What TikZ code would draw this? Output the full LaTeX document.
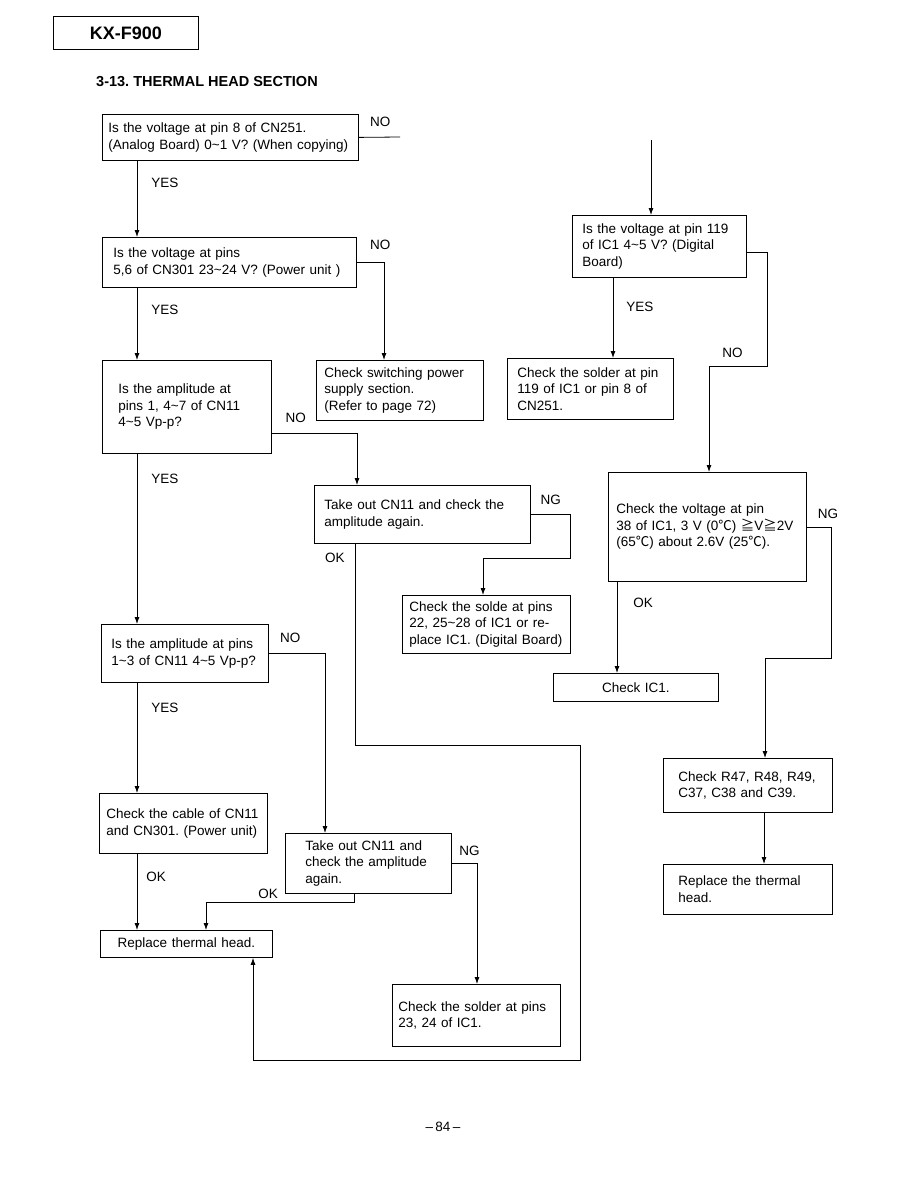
\documentclass[tikz,border=0pt]{standalone}
\usepackage{fontspec}
\setmainfont{Liberation Sans}
\newfontfamily\cjkjp{Noto Sans CJK JP}
\usetikzlibrary{arrows.meta, positioning}
\frenchspacing
\newcommand{\bodyfont}{\fontsize{13.5}{16.5}\selectfont}
\newcommand{\tld}{\textasciitilde}
\newcommand{\degc}{{\cjkjp ℃}}
\newcommand{\geqv}{{\cjkjp ≧}}
\tikzset{
  box/.style={draw, rectangle, anchor=north west, align=left,
              inner ysep=0pt, font=\bodyfont, line width=0.8pt},
  cbox/.style={box, align=center, inner xsep=0pt},
  arr/.style={-{Latex[length=7pt,width=5pt]}, line width=0.8pt},
  plain/.style={line width=0.8pt},
  lbl/.style={inner sep=0pt, font=\bodyfont},
}
\begin{document}
\begin{tikzpicture}[x=1pt, y=-1pt]
  \useasboundingbox (0,0) rectangle (918,1188);

  % heading
  \node[draw, line width=0.8pt, anchor=north west, minimum width=145pt, minimum height=33pt,
        font=\bfseries\fontsize{18}{18}\selectfont] (model) at (53,16) {KX-F900};
  \node[anchor=west, inner sep=0pt, font=\bfseries\fontsize{14.5}{14.5}\selectfont]
        (title) at (96,82) {3-13. THERMAL HEAD SECTION};

  % left column
  \node[box, text width=244pt, inner xsep=6pt, minimum height=46pt]  (q1) at (102,114)
        {Is the voltage at pin 8 of CN251.\\(Analog Board) 0\tld1 V? (When copying)};
  \node[box, text width=232pt, inner xsep=11pt, minimum height=50pt] (q2) at (102,237)
        {Is the voltage at pins\\5,6 of CN301 23\tld24 V? (Power unit )};
  \node[box, text width=137pt, inner xsep=16pt, minimum height=93pt] (q3) at (102,360)
        {Is the amplitude at\\pins 1, 4\tld7 of CN11\\4\tld5 Vp-p?};
  \node[box, text width=151pt, inner xsep=8pt, minimum height=60pt]  (psu) at (316,360)
        {Check switching power\\supply section.\\(Refer to page 72)};
  \node[box, text width=196pt, inner xsep=10pt, minimum height=58pt] (take1) at (314,485)
        {Take out CN11 and check the\\amplitude again.};
  \node[box, text width=154pt, inner xsep=7pt, minimum height=58pt]  (solde1) at (402,595)
        {Check the solde at pins\\22, 25\tld28 of IC1 or re-\\place IC1. (Digital Board)};
  \node[box, text width=147pt, inner xsep=10pt, minimum height=58pt] (q5) at (101,624)
        {Is the amplitude at pins\\1\tld3 of CN11 4\tld5 Vp-p?};
  \node[box, text width=154pt, inner xsep=7pt, minimum height=60pt]  (cable) at (99,793)
        {Check the cable of CN11\\and CN301. (Power unit)};
  \node[box, text width=126pt, inner xsep=20pt, minimum height=60pt] (take2) at (285,833)
        {Take out CN11 and\\check the amplitude\\again.};
  \node[cbox, text width=172pt, minimum height=27pt]                 (rep) at (100,930)
        {Replace thermal head.};
  \node[box, text width=156pt, inner xsep=6pt, minimum height=62pt]  (solder2) at (392,984)
        {Check the solder at pins\\23, 24 of IC1.};

  % right column
  \node[box, text width=154pt, inner xsep=10pt, minimum height=62pt] (q4) at (572,215)
        {Is the voltage at pin 119\\of IC1 4\tld5 V? (Digital\\Board)};
  \node[box, text width=146pt, inner xsep=10pt, minimum height=61pt] (solder1) at (507,358)
        {Check the solder at pin\\119 of IC1 or pin 8 of\\CN251.};
  \node[box, text width=182pt, inner xsep=8pt, minimum height=109pt] (volt38) at (608,472)
        {Check the voltage at pin\\38 of IC1, 3 V (0\degc) \geqv V\geqv 2V\\(65\degc) about 2.6V (25\degc).};
  \node[cbox, text width=165pt, minimum height=28pt]                 (ic1) at (553,673)
        {Check IC1.};
  \node[box, text width=139pt, inner xsep=15pt, minimum height=54pt] (rcs) at (663,758)
        {Check R47, R48, R49,\\C37, C38 and C39.};
  \node[box, text width=139pt, inner xsep=15pt, minimum height=50pt] (head) at (663,864)
        {Replace the thermal\\head.};

  \node[lbl] (page) at (443,1127) {\textendash\,84\,\textendash};

  % connectors, left
  \coordinate (noend) at (400,137);
  \coordinate (din) at (651,140);
  \draw[plain] (q1.east) -- node[lbl, above=10pt, pos=0.52] {NO} (noend);
  \draw[arr] ([xshift=35pt]q1.south west) -- node[lbl, right=14pt, pos=0.29] {YES} ([xshift=35pt]q2.north west);
  \draw[arr] (q2.east) -| node[lbl, above=12pt, pos=0.43] {NO} ([xshift=68pt]psu.north west);
  \draw[arr] ([xshift=35pt]q2.south west) -- node[lbl, right=14pt, pos=0.30] {YES} ([xshift=35pt]q3.north west);
  \draw[arr] ([yshift=20pt]q3.south east) -| node[lbl, above=11pt, pos=0.14] {NO} ([xshift=43pt]take1.north west);
  \draw[arr] ([xshift=35pt]q3.south west) -- node[lbl, right=14pt, pos=0.15] {YES} ([xshift=36pt]q5.north west);
  \draw[arr] (take1.east) -- node[lbl, above=9pt] {NG} ++(40,0)
             |- ([xshift=81pt,yshift=37pt]solde1.north west) -- ([xshift=81pt]solde1.north west);
  \draw[arr] ([xshift=41pt]take1.south west) -- node[lbl, left=10pt, pos=0.07] {OK} ++(0,202)
             -- ++(225,0) -- ++(0,315) -| ([xshift=153pt]rep.south west);
  \draw[arr] (q5.east) -| node[lbl, above=10pt, pos=0.19] {NO} ([xshift=40pt]take2.north west);
  \draw[arr] ([xshift=36pt]q5.south west) -- node[lbl, right=14pt, pos=0.23] {YES} ([xshift=38pt]cable.north west);
  \draw[arr] ([xshift=38pt]cable.south west) -- node[lbl, right=9pt, pos=0.3] {OK} ([xshift=37pt]rep.north west);
  \draw[arr] (take2.east) -| node[lbl, above=7pt, pos=0.35] {NG} ([xshift=85pt]solder2.north west);
  \draw[arr] ([xshift=69pt]take2.south west) -- ++(0,9)
             -| node[lbl, above=4pt, pos=0.29] {OK} ([xshift=106pt]rep.north west);

  % connectors, right
  \draw[arr] (din) -- (din |- q4.north);
  \draw[arr] ([yshift=-6pt]q4.east) -- ++(21,0) -- ++(0,114)
             -| node[lbl, above=8pt, pos=0.3] {NO} ([xshift=101pt]volt38.north west);
  \draw[arr] ([xshift=41pt]q4.south west) -- node[lbl, right=13pt, pos=0.36] {YES} ([xshift=106pt]solder1.north west);
  \draw[arr] (volt38.east) -- node[lbl, above=8pt, pos=0.85] {NG} ++(25,0) -- ++(0,131)
             -| ([xshift=102pt]rcs.north west);
  \draw[arr] ([xshift=9pt]volt38.south west) -- node[lbl, right=16pt, pos=0.23] {OK} ([xshift=64pt]ic1.north west);
  \draw[arr] ([xshift=101pt]rcs.south west) -- ([xshift=101pt]head.north west);
\end{tikzpicture}
\end{document}
